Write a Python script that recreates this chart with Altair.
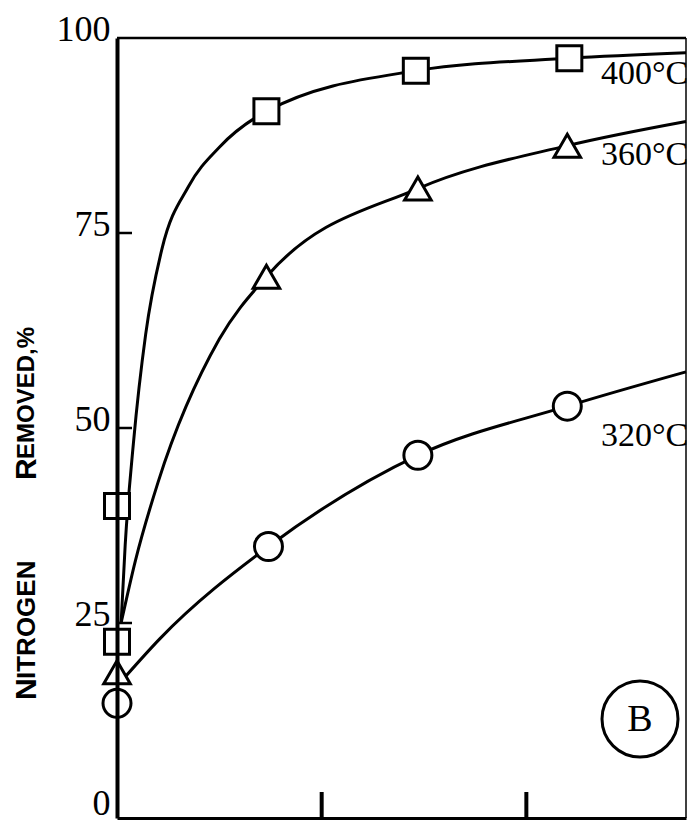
import altair as alt
import pandas as pd

# Run temperatures and the measured points of each run
temps = ["400°C", "360°C", "320°C"]
shapes = ["square", "triangle-up", "circle"]
marker_sizes = [625, 784, 760]

x_400 = [0.0, 0.0, 0.73, 1.46, 2.21]
y_400 = [40.0, 22.6, 90.6, 95.8, 97.4]
x_360 = [0.0, 0.73, 1.47, 2.20]
y_360 = [18.7, 69.4, 80.7, 86.2]
x_320 = [0.0, 0.74, 1.47, 2.20]
y_320 = [14.7, 34.8, 46.5, 52.8]

# Hand-drawn trend curves
cx_400 = [0.02, 0.04, 0.08, 0.14, 0.22, 0.35, 0.50, 0.73, 1.46, 2.21, 2.78]
cy_400 = [25.0, 35.0, 48.0, 62.0, 73.0, 81.0, 86.0, 90.6, 95.8, 97.4, 98.1]
cx_360 = [0.02, 0.09, 0.20, 0.50, 0.73, 1.47, 2.20, 2.78]
cy_360 = [25.0, 33.0, 43.0, 61.4, 69.4, 80.7, 86.2, 89.3]
cx_320 = [0.02, 0.21, 0.74, 1.47, 2.20, 2.78]
cy_320 = [17.5, 23.0, 34.8, 46.5, 52.8, 57.2]

y_ticks = [0, 25, 50, 75, 100]
y_inner_ticks = [25, 50, 75]
x_ticks = [1, 2]

W, H = 569, 780
NUM_FONT = '"Liberation Serif", serif'
TITLE_FONT = '"Liberation Sans", Arial, sans-serif'

points = pd.DataFrame(
    [{"x": a, "y": b, "run": temps[0]} for a, b in zip(x_400, y_400)]
    + [{"x": a, "y": b, "run": temps[1]} for a, b in zip(x_360, y_360)]
    + [{"x": a, "y": b, "run": temps[2]} for a, b in zip(x_320, y_320)]
)
curves = pd.DataFrame(
    [{"x": a, "y": b, "run": temps[0]} for a, b in zip(cx_400, cy_400)]
    + [{"x": a, "y": b, "run": temps[1]} for a, b in zip(cx_360, cy_360)]
    + [{"x": a, "y": b, "run": temps[2]} for a, b in zip(cx_320, cy_320)]
)

xs = alt.Scale(domain=[0, 2.78], nice=False, zero=False)
ys = alt.Scale(domain=[0, 100], nice=False)

x_enc = alt.X(
    "x:Q", scale=xs,
    axis=alt.Axis(labels=False, ticks=False, grid=False, title=None,
                  domainColor="black", domainWidth=3, values=x_ticks),
)
y_enc = alt.Y(
    "y:Q", scale=ys,
    axis=alt.Axis(values=y_ticks, ticks=False, grid=False, title=None,
                  domainColor="black", domainWidth=4, labelColor="black",
                  labelFont=NUM_FONT, labelFontSize=36, labelPadding=7,
                  labelOffset=alt.condition("datum.value == 0", alt.value(-15), alt.value(-9)),
                  zindex=1),
)

lines = alt.Chart(curves).mark_line(
    color="black", strokeWidth=3, interpolate="monotone"
).encode(x=x_enc, y=y_enc, detail="run:N")

markers = alt.Chart(points).mark_point(
    filled=True, fill="white", stroke="black", strokeWidth=3, opacity=1
).encode(
    x=alt.X("x:Q", scale=xs),
    y=alt.Y("y:Q", scale=ys),
    shape=alt.Shape("run:N", scale=alt.Scale(domain=temps, range=shapes), legend=None),
    size=alt.Size("run:N", scale=alt.Scale(domain=temps, range=marker_sizes), legend=None),
)

# Inward tick marks on the left axis
y_tick_marks = alt.Chart(pd.DataFrame({"y": y_inner_ticks})).mark_rule(
    color="black", strokeWidth=2.5
).encode(y=alt.Y("y:Q", scale=ys), x=alt.value(0), x2=alt.value(15))

# Upward tick marks on the bottom axis
x_tick_marks = alt.Chart(pd.DataFrame({"x": x_ticks})).mark_rule(
    color="black", strokeWidth=4
).encode(x=alt.X("x:Q", scale=xs), y=alt.value(H - 26), y2=alt.value(H))

# Top and right frame lines
top_line = alt.Chart(pd.DataFrame({"k": [0]})).mark_rule(
    color="black", strokeWidth=2.5
).encode(x=alt.value(0), x2=alt.value(W), y=alt.value(0))
right_line = alt.Chart(pd.DataFrame({"k": [0]})).mark_rule(
    color="black", strokeWidth=1.5
).encode(x=alt.value(W), y=alt.value(0), y2=alt.value(H))

# Temperature labels at the right end of each curve
label_df = pd.DataFrame({"run": temps, "py": [36, 117, 398]})
run_labels = alt.Chart(label_df).mark_text(
    font=NUM_FONT, fontSize=34, align="left", baseline="middle", color="black"
).encode(text="run:N", x=alt.value(484), y=alt.Y("py:Q", scale=None))

# Rotated axis title in small caps
title_parts = pd.DataFrame({
    "txt": ["N", "ITROGEN", "R", "EMOVED,%"],
    "py": [700 - 38, 679 - 38, 480 - 38, 459 - 38],
    "fs": [30, 26, 30, 24],
})
title_marks = []
for _, r in title_parts.iterrows():
    title_marks.append(
        alt.Chart(pd.DataFrame({"t": [r["txt"]]})).mark_text(
            font=TITLE_FONT, fontWeight="bold", fontSize=int(r["fs"]),
            angle=270, align="left", baseline="middle", color="black"
        ).encode(text="t:N", x=alt.value(27 - 117), y=alt.value(int(r["py"])))
    )

# Circled panel letter
panel_ring = alt.Chart(pd.DataFrame({"k": [0]})).mark_point(
    shape="circle", size=5776, stroke="black", strokeWidth=3, filled=False, opacity=1
).encode(x=alt.value(640 - 117), y=alt.value(719 - 38))
panel_letter = alt.Chart(pd.DataFrame({"t": ["B"]})).mark_text(
    font='"Liberation Serif", serif', fontSize=38, align="center",
    baseline="middle", color="black"
).encode(text="t:N", x=alt.value(640 - 117), y=alt.value(720 - 38))

chart = alt.layer(
    lines, markers, y_tick_marks, x_tick_marks, top_line, right_line,
    run_labels, *title_marks, panel_ring, panel_letter,
).properties(
    width=W, height=H,
    autosize=alt.AutoSizeParams(type="none"),
    padding={"left": 117, "top": 38, "right": 2, "bottom": 6},
    background="white",
).configure_view(stroke=None)

chart.save("out.html", embed_options={"renderer": "svg", "actions": False})
